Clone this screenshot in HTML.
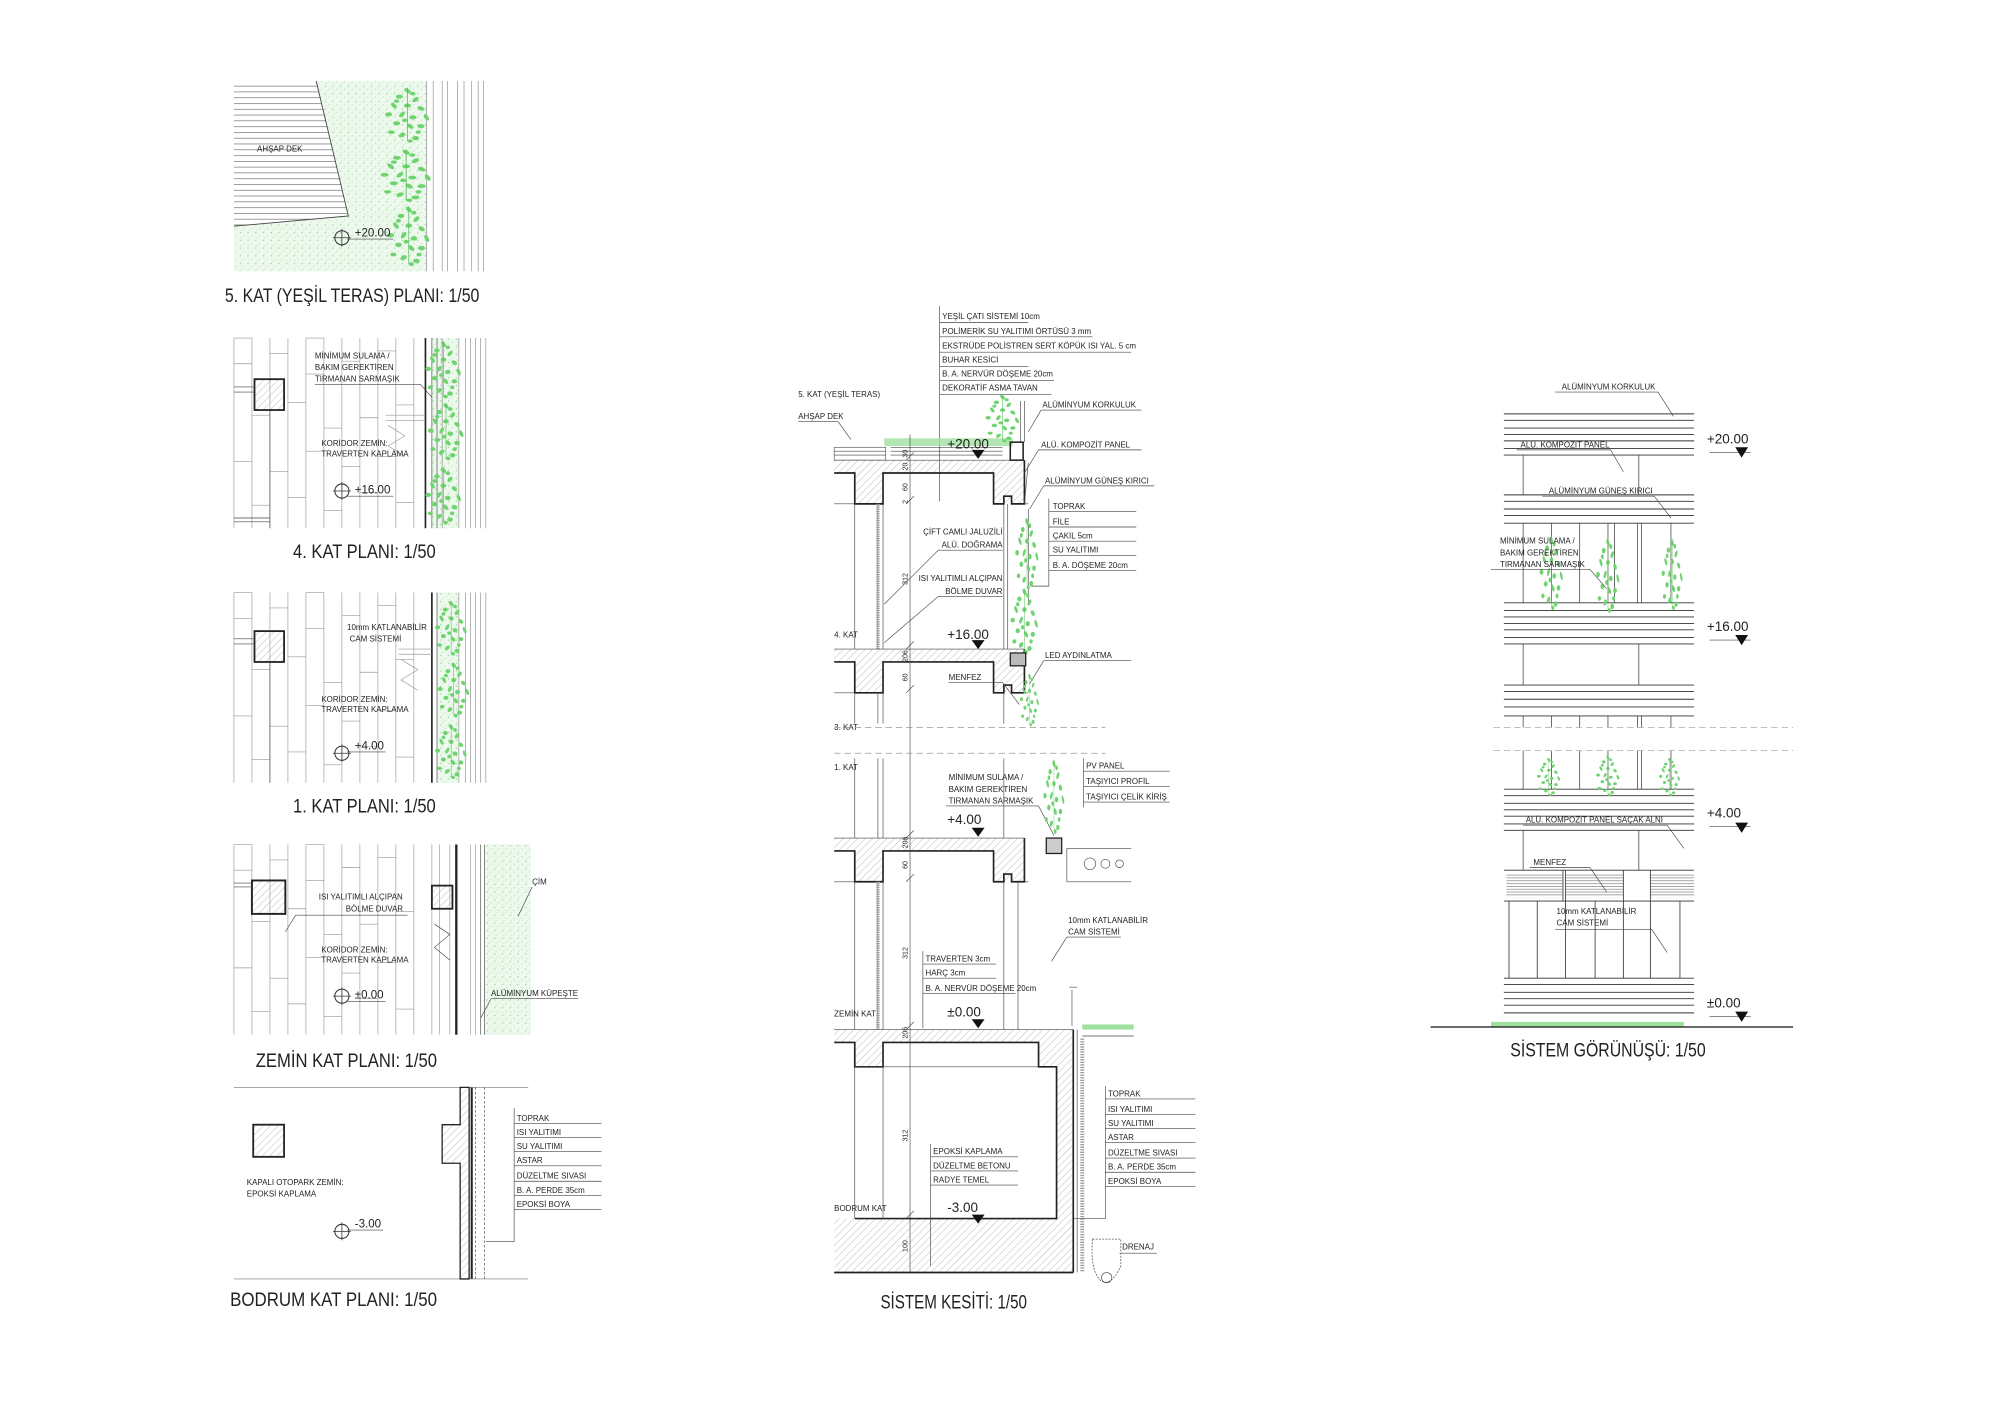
<!DOCTYPE html>
<html><head><meta charset="utf-8"><style>
html,body{margin:0;padding:0;background:#fff}
svg{display:block}
text{font-family:"Liberation Sans",sans-serif;fill:#222}
.s{font-size:6.2px}
.t{font-size:15px}
.lv{font-size:10.5px}
.g{stroke:#999;stroke-width:.5;fill:none}
.k{stroke:#222;stroke-width:1.3;fill:none}
.n{stroke:#444;stroke-width:.5;fill:none}
</style></head><body>
<svg width="2000" height="1413" viewBox="0 0 1556 1099.3" preserveAspectRatio="none" xmlns="http://www.w3.org/2000/svg">
<defs>
<pattern id="h" width="4" height="4" patternUnits="userSpaceOnUse" patternTransform="rotate(45)"><line x1="0" y1="0" x2="0" y2="4" stroke="#999" stroke-width=".5"/></pattern>
<pattern id="gd" width="6" height="6" patternUnits="userSpaceOnUse"><rect width="6" height="6" fill="#eef9ee"/><circle cx="1" cy="1" r=".5" fill="#8ccf8c"/><circle cx="4" cy="3.5" r=".4" fill="#9ad69a"/><circle cx="2" cy="5" r=".35" fill="#8ccf8c"/></pattern>
<pattern id="dk" width="10" height="4.5" patternUnits="userSpaceOnUse"><line x1="0" y1="4" x2="10" y2="4" stroke="#666" stroke-width=".5"/></pattern>
<pattern id="mf" width="10" height="2.2" patternUnits="userSpaceOnUse"><line x1="0" y1="1" x2="10" y2="1" stroke="#777" stroke-width=".5"/></pattern>
<symbol id="lf" viewBox="0 0 20 20" preserveAspectRatio="none">
<g fill="#6fd46f">
<ellipse cx="10" cy="2" rx="1.3" ry=".7" transform="rotate(30 10 2)"/><ellipse cx="7" cy="4" rx="1.3" ry=".7"/><ellipse cx="13" cy="5" rx="1.3" ry=".7" transform="rotate(-30 13 5)"/>
<ellipse cx="5" cy="7" rx="1.3" ry=".7" transform="rotate(40 5 7)"/><ellipse cx="10" cy="7" rx="1.3" ry=".7"/><ellipse cx="15" cy="8" rx="1.3" ry=".7" transform="rotate(20 15 8)"/>
<ellipse cx="3" cy="10" rx="1.3" ry=".7"/><ellipse cx="8" cy="10" rx="1.3" ry=".7" transform="rotate(-40 8 10)"/><ellipse cx="12" cy="11" rx="1.3" ry=".7"/><ellipse cx="17" cy="11" rx="1.3" ry=".7" transform="rotate(50 17 11)"/>
<ellipse cx="6" cy="13" rx="1.3" ry=".7"/><ellipse cx="11" cy="14" rx="1.3" ry=".7" transform="rotate(30 11 14)"/><ellipse cx="15" cy="14" rx="1.3" ry=".7"/>
<ellipse cx="8" cy="17" rx="1.3" ry=".7" transform="rotate(-20 8 17)"/><ellipse cx="13" cy="18" rx="1.3" ry=".7"/><ellipse cx="4" cy="16" rx="1.2" ry=".6"/>
<ellipse cx="12" cy="3" rx="1" ry=".6"/><ellipse cx="6" cy="5.5" rx="1" ry=".6"/><ellipse cx="14" cy="16" rx="1" ry=".6"/><ellipse cx="9" cy="12" rx="1" ry=".6"/><ellipse cx="11" cy="19" rx="1" ry=".6"/>
</g>
<path d="M10 1V19" stroke="#5cc25c" stroke-width=".3"/></symbol>
<symbol id="mk" viewBox="0 0 14 14"><circle cx="7" cy="7" r="5.5" fill="none" stroke="#333" stroke-width=".8"/><line x1="0" y1="7" x2="14" y2="7" stroke="#333" stroke-width=".6"/><line x1="7" y1="0" x2="7" y2="14" stroke="#333" stroke-width=".6"/></symbol>
<g id="planlines">
<path class="g" d="M182 0V148M196 0V148M210 0V148M224 0V148M238 0V148M252 0V148M266 0V148M280 0V148M294 0V148M308 0V148M322 0V148"/>
<path class="g" d="M182 20H196M210 12H224M238 28H252M266 18H280M294 10H308M196 60H210M224 50H238M252 70H266M280 62H294M308 52H322M182 96H196M210 104H224M238 88H252M266 100H280M294 92H308M196 130H210M224 124H238M252 134H266M280 120H294M308 128H322M182 0H196M238 0H252"/>
</g>
<g id="fl">
<rect x="649" y="0" width="148" height="10" fill="url(#h)"/>
<rect x="665" y="10" width="22" height="24" fill="url(#h)"/>
<rect x="773" y="10" width="24" height="24" fill="url(#h)"/>
<path class="n" d="M649 0H797"/>
<path class="k" d="M649 10H665V34H687V10H773V34H781V28H787V34H797V0"/>
<path class="n" d="M649 34H665M797 34H800"/>
</g>
</defs>

<!-- ===== PLAN 5 ===== -->
<rect x="182" y="63" width="150" height="148" fill="url(#gd)"/>
<polygon points="182,63 246,63 271,168 182,176" fill="#fff"/>
<polygon points="182,63 246,63 271,168 182,176" fill="url(#dk)"/>
<path d="M246 63L271 168L182 176" class="n" style="stroke-width:.7"/>
<text class="s" x="200" y="118">AHŞAP DEK</text>
<path class="g" d="M332 63V211M337 63V211M344 63V211M348 63V211M356 63V211M361 63V211M367 63V211M372 63V211M376 63V211" style="stroke:#888"/>
<use href="#lf" x="296" y="66" width="42" height="46"/><use href="#lf" x="292" y="114" width="48" height="44"/><use href="#lf" x="298" y="158" width="40" height="50"/>
<use href="#mk" x="259" y="178" width="14" height="14"/>
<text class="lv" x="276" y="184" style="font-size:9px">+20.00</text><line class="n" x1="270" y1="186" x2="306" y2="186"/>
<text class="t" x="175" y="235" textLength="198" lengthAdjust="spacingAndGlyphs">5. KAT (YEŞİL TERAS) PLANI: 1/50</text>

<!-- ===== PLAN 4 ===== -->
<g transform="translate(0,263)">
<use href="#planlines"/>
<rect x="336" y="0" width="21" height="148" fill="url(#gd)"/>
<path class="k" d="M331 0V148"/><path class="n" d="M336 0V148M340 0V148"/>
<path class="g" d="M344 0V148M357 0V148M362 0V148M366 0V148M370 0V148M374 0V148M378 0V148" style="stroke:#888"/>
<use href="#lf" x="328" y="0" width="34" height="48"/><use href="#lf" x="330" y="48" width="34" height="48"/><use href="#lf" x="328" y="98" width="34" height="48"/>
<rect x="198" y="32" width="23" height="24" fill="url(#h)" stroke="#222" stroke-width="1.4"/>
<path class="n" d="M182 38H198M182 42H198M182 140H210M182 143H210M210 56V148"/>
<path class="n" d="M300 60H331M300 64H331M302 68L315 76L302 84L315 92" style="stroke:#999"/>
<text class="s" x="245" y="16">MİNİMUM SULAMA /</text><text class="s" x="245" y="25">BAKIM GEREKTİREN</text><text class="s" x="245" y="34">TIRMANAN SARMAŞIK</text>
<path class="n" d="M245 36H327L336 46"/>
<text class="s" x="250" y="84">KORİDOR ZEMİN:</text><text class="s" x="250" y="92">TRAVERTEN KAPLAMA</text>
<use href="#mk" x="259" y="112" width="14" height="14"/>
<text class="lv" x="276" y="121" style="font-size:9px">+16.00</text><line class="n" x1="270" y1="123" x2="306" y2="123"/>
</g>
<text class="t" x="228" y="434" textLength="111" lengthAdjust="spacingAndGlyphs">4. KAT PLANI: 1/50</text>

<!-- ===== PLAN 1 ===== -->
<g transform="translate(0,461)">
<use href="#planlines"/>
<rect x="340" y="0" width="17" height="148" fill="url(#gd)"/>
<path class="k" d="M336 0V148"/><path class="n" d="M340 0V148"/>
<path class="g" d="M357 0V148M362 0V148M366 0V148M370 0V148M374 0V148M378 0V148" style="stroke:#888"/>
<use href="#lf" x="336" y="4" width="30" height="46"/><use href="#lf" x="338" y="52" width="30" height="46"/><use href="#lf" x="336" y="100" width="30" height="46"/>
<rect x="198" y="30" width="23" height="24" fill="url(#h)" stroke="#222" stroke-width="1.4"/>
<path class="n" d="M182 36H198M182 40H198M210 54V148"/>
<path class="n" d="M310 44H336M310 48H336M312 52L325 60L312 68L325 76" style="stroke:#999"/>
<text class="s" x="270" y="29">10mm KATLANABİLİR</text><text class="s" x="272" y="38">CAM SİSTEMİ</text>
<text class="s" x="250" y="85">KORİDOR ZEMİN:</text><text class="s" x="250" y="93">TRAVERTEN KAPLAMA</text>
<use href="#mk" x="259" y="118" width="14" height="14"/>
<text class="lv" x="276" y="122" style="font-size:9px">+4.00</text><line class="n" x1="270" y1="124" x2="300" y2="124"/>
</g>
<text class="t" x="228" y="632" textLength="111" lengthAdjust="spacingAndGlyphs">1. KAT PLANI: 1/50</text>

<!-- ===== ZEMIN ===== -->
<g transform="translate(0,657)">
<use href="#planlines"/>
<path class="g" d="M336 0V148M342 0V148M350 0V148M366 0V148M370 0V148"/>
<path class="k" d="M355 0V148" style="stroke-width:1.8"/>
<rect x="377" y="0" width="36" height="148" fill="url(#gd)"/>
<path class="n" d="M374 0V148M377 0V148"/>
<rect x="196" y="28" width="26" height="26" fill="url(#h)" stroke="#222" stroke-width="1.5"/>
<rect x="336" y="32" width="16" height="18" fill="url(#h)" stroke="#222" stroke-width="1.4"/>
<path class="n" d="M182 30H196M182 33H196M338 62L350 70L338 80L350 90"/>
<text class="s" x="248" y="43">ISI YALITIMLI ALÇIPAN</text><text class="s" x="269" y="52">BÖLME DUVAR</text>
<path class="n" d="M317 55H230L222 68"/>
<text class="s" x="250" y="84">KORİDOR ZEMİN:</text><text class="s" x="250" y="92">TRAVERTEN KAPLAMA</text>
<use href="#mk" x="259" y="111" width="14" height="14"/>
<text class="lv" x="276" y="120" style="font-size:9px">±0.00</text><line class="n" x1="270" y1="122" x2="300" y2="122"/>
<text class="s" x="414" y="31">ÇİM</text><path class="n" d="M414 33L403 56"/>
<text class="s" x="382" y="118">ALÜMİNYUM KÜPEŞTE</text><path class="n" d="M382 120H450M382 120L374 135"/>
</g>
<text class="t" x="199" y="830" textLength="141" lengthAdjust="spacingAndGlyphs">ZEMİN KAT PLANI: 1/50</text>

<!-- ===== BODRUM ===== -->
<path class="n" d="M182 846H411M182 995H411" style="stroke:#777"/>
<path d="M358 846V875H344V905H358V995H365V846Z" fill="url(#h)" stroke="#222" stroke-width="1"/>
<path class="k" d="M367 846V995" style="stroke-width:1.6"/>
<path class="n" d="M370 846V995M377 846V995" style="stroke-dasharray:2 1.5"/>
<rect x="197" y="875" width="24" height="25" fill="url(#h)" stroke="#222" stroke-width="1.4"/>
<text class="s" x="192" y="922">KAPALI OTOPARK ZEMİN:</text><text class="s" x="192" y="931">EPOKSİ KAPLAMA</text>
<use href="#mk" x="259" y="951" width="14" height="14"/>
<text class="lv" x="276" y="955" style="font-size:9px">-3.00</text><line class="n" x1="270" y1="957" x2="298" y2="957"/>
<g class="s">
<text x="402" y="872">TOPRAK</text><text x="402" y="883">ISI YALITIMI</text><text x="402" y="894">SU YALITIMI</text><text x="402" y="905">ASTAR</text><text x="402" y="917">DÜZELTME SIVASI</text><text x="402" y="928">B. A. PERDE 35cm</text><text x="402" y="939">EPOKSİ BOYA</text>
</g>
<path class="n" d="M400 862V966H378M400 874H468M400 885H468M400 896H468M400 907H468M400 919H468M400 930H468M400 941H468"/>
<text class="t" x="179" y="1016" textLength="161" lengthAdjust="spacingAndGlyphs">BODRUM KAT PLANI: 1/50</text>

<!-- ===== SECTION ===== -->
<g class="s">
<text x="733" y="248">YEŞİL ÇATI SİSTEMİ 10cm</text><text x="733" y="260">POLİMERİK SU YALITIMI ÖRTÜSÜ 3 mm</text><text x="733" y="271">EKSTRÜDE POLİSTREN SERT KÖPÜK ISI YAL. 5 cm</text><text x="733" y="282">BUHAR KESİCİ</text><text x="733" y="293">B. A. NERVÜR DÖŞEME 20cm</text><text x="733" y="304">DEKORATİF ASMA TAVAN</text>
<text x="621" y="309">5. KAT (YEŞİL TERAS)</text><text x="621" y="326">AHŞAP DEK</text>
</g>
<path class="n" d="M731 238V390M731 251H800M731 262H850M731 274H880M731 285H800M731 296H820M731 307H818M621 328H652L662 342"/>
<rect x="649" y="348" width="40" height="10" fill="#fff" stroke="#555" stroke-width=".5"/>
<path class="n" d="M649 351H689M649 354H689M693 348H780M693 351H780M693 354H780"/>
<rect x="688" y="341" width="100" height="6" fill="#9fe09f" opacity=".8"/>
<use href="#lf" x="764" y="305" width="32" height="40"/>
<use href="#fl" y="358"/><use href="#fl" y="505"/><use href="#fl" y="652"/>
<rect x="786" y="344" width="10" height="14" fill="none" stroke="#222" stroke-width="1.2"/>
<path class="n" d="M794 312V344M797 312V344M800 360L797 392M800 396V470"/>
<text class="lv" x="737" y="349">+20.00</text><polygon points="756,350 766,350 761,357" fill="#111"/>
<path class="n" d="M665 392V505M665 539V563M683 392V505M687 392V505M683 539V563M687 539V563M781 392V505M784 392V505M781 539V563M665 590V652M683 590V652M687 590V652M665 686V801M683 686V801M687 686V801M781 590V652M781 686V801M792 686V801"/>
<path d="M683 392V505M683 686V801" stroke="#999" stroke-width="3" stroke-dasharray=".6 .8"/>
<path class="n" d="M708 338V990M705 358L711 352M705 392L711 386M705 505L711 499M705 539L711 533M705 652L711 646M705 686L711 680M705 801L711 795M705 948L711 942"/>
<g class="s" style="font-size:5.5px">
<text transform="translate(706,455) rotate(-90)">312</text><text transform="translate(706,382) rotate(-90)">60</text><text transform="translate(706,366) rotate(-90)">20</text><text transform="translate(706,356) rotate(-90)">30</text><text transform="translate(706,392) rotate(-90)">2</text>
<text transform="translate(706,515) rotate(-90)">206</text><text transform="translate(706,530) rotate(-90)">60</text>
<text transform="translate(706,660) rotate(-90)">206</text><text transform="translate(706,676) rotate(-90)">60</text><text transform="translate(706,746) rotate(-90)">312</text>
<text transform="translate(706,808) rotate(-90)">206</text><text transform="translate(706,888) rotate(-90)">312</text><text transform="translate(706,974) rotate(-90)">100</text>
</g>
<g class="s">
<text x="811" y="317">ALÜMİNYUM KORKULUK</text><text x="810" y="348">ALÜ. KOMPOZİT PANEL</text><text x="813" y="376">ALÜMİNYUM GÜNEŞ KIRICI</text>
<text x="819" y="396">TOPRAK</text><text x="819" y="408">FİLE</text><text x="819" y="419">ÇAKIL 5cm</text><text x="819" y="430">SU YALITIMI</text><text x="819" y="442">B. A. DÖŞEME 20cm</text>
<text x="780" y="416" text-anchor="end">ÇİFT CAMLI JALUZİLİ</text><text x="780" y="426" text-anchor="end">ALÜ. DOĞRAMA</text>
<text x="780" y="452" text-anchor="end">ISI YALITIMLI ALÇIPAN</text><text x="780" y="462" text-anchor="end">BÖLME DUVAR</text>
<text x="649" y="496">4. KAT</text><text x="813" y="512">LED AYDINLATMA</text><text x="738" y="529">MENFEZ</text><text x="649" y="568">3. KAT</text>
</g>
<path class="n" d="M810 319H888M810 319L800 336M808 350H888M808 350L797 368M812 378H898M812 378L801 396M816 388V456H802M816 398H884M816 410H884M816 421H884M816 432H884M816 444H884M780 428H730L688 470M780 464H730L688 500M812 514H880M812 514L801 532M738 531H780L793 548"/>
<use href="#lf" x="788" y="400" width="22" height="60"/><use href="#lf" x="784" y="455" width="26" height="55"/><use href="#lf" x="792" y="522" width="18" height="44"/>
<text class="lv" x="737" y="497">+16.00</text><polygon points="756,498 766,498 761,505" fill="#111"/>
<rect x="786" y="508" width="12" height="10" fill="#bbb" stroke="#222" stroke-width="1"/>
<path d="M649 566H860M649 586H860" stroke="#999" stroke-width=".6" stroke-dasharray="5 3"/>
<g class="s">
<text x="649" y="599">1. KAT</text><text x="738" y="607">MİNİMUM SULAMA /</text><text x="738" y="616">BAKIM GEREKTİREN</text><text x="738" y="625">TIRMANAN SARMAŞIK</text>
<text x="845" y="598">PV PANEL</text><text x="845" y="610">TAŞIYICI PROFİL</text><text x="845" y="622">TAŞIYICI ÇELİK KİRİŞ</text>
<text x="831" y="718">10mm KATLANABİLİR</text><text x="831" y="727">CAM SİSTEMİ</text>
<text x="720" y="748">TRAVERTEN 3cm</text><text x="720" y="759">HARÇ 3cm</text><text x="720" y="771">B. A. NERVÜR DÖŞEME 20cm</text>
<text x="649" y="791">ZEMİN KAT</text>
</g>
<path class="n" d="M736 627H808L820 650M843 590V628M843 600H910M843 612H910M843 624H910M830 729H872M830 729L818 748M718 740V800M718 750H775M718 761H775M718 773H790"/>
<use href="#lf" x="810" y="588" width="20" height="62"/>
<rect x="814" y="652" width="12" height="12" fill="#ccc" stroke="#222" stroke-width="1"/>
<path class="n" d="M830 660H880M830 686H880M830 660V686"/>
<circle cx="848" cy="672" r="4.5" class="n"/><circle cx="860" cy="672" r="3.5" class="n"/><circle cx="871" cy="672" r="3" class="n"/>
<text class="lv" x="737" y="641">+4.00</text><polygon points="756,644 766,644 761,651" fill="#111"/>
<path d="M649 801H835V990H649V948H822V830H808V811H687V830H665V811H649Z" fill="url(#h)"/>
<path class="k" d="M649 811H665V830H687V811H808V830H822V948H665M835 801V990M649 990H835"/>
<path class="n" d="M649 801H835M665 830V948M687 830V948M665 830H808M838 801V990"/>
<path d="M842 808V990" stroke="#999" stroke-width="3" stroke-dasharray="1 1"/>
<rect x="842" y="797" width="40" height="4" fill="#9fe09f"/>
<path class="n" d="M842 806H882M834 770V798M832 768H838"/>
<text class="lv" x="737" y="791">±0.00</text><polygon points="756,793 766,793 761,800" fill="#111"/>
<g class="s">
<text x="862" y="853">TOPRAK</text><text x="862" y="865">ISI YALITIMI</text><text x="862" y="876">SU YALITIMI</text><text x="862" y="887">ASTAR</text><text x="862" y="899">DÜZELTME SIVASI</text><text x="862" y="910">B. A. PERDE 35cm</text><text x="862" y="921">EPOKSİ BOYA</text>
<text x="726" y="898">EPOKSİ KAPLAMA</text><text x="726" y="909">DÜZELTME BETONU</text><text x="726" y="920">RADYE TEMEL</text>
<text x="649" y="942">BODRUM KAT</text><text x="873" y="972">DRENAJ</text>
</g>
<path class="n" d="M860 845V948H835M860 855H930M860 867H930M860 878H930M860 889H930M860 901H930M860 912H930M860 923H930M724 890V985M724 900H792M724 911H792M724 922H792M871 975H900"/>
<text class="lv" x="737" y="943">-3.00</text><polygon points="756,945 766,945 761,952" fill="#111"/>
<path d="M850 964H872V985Q864 1002 856 996Q848 988 850 964Z" fill="none" stroke="#555" stroke-width=".6" stroke-dasharray="1.5 1"/>
<circle cx="861" cy="994" r="4" class="n"/>
<text class="t" x="685" y="1018" textLength="114" lengthAdjust="spacingAndGlyphs">SİSTEM KESİTİ: 1/50</text>

<!-- ===== ELEVATION ===== -->
<g stroke="#333" stroke-width=".7">
<path d="M1170 322H1318M1170 327H1318M1170 333H1318M1170 338H1318M1170 343H1318M1170 349H1318M1170 354H1318"/>
<path d="M1170 385H1318M1170 390H1318M1170 396H1318M1170 401H1318M1170 407H1318"/>
<path d="M1170 469H1318M1170 475H1318M1170 480H1318M1170 485H1318M1170 490H1318M1170 496H1318M1170 501H1318"/>
<path d="M1170 533H1318M1170 538H1318M1170 544H1318M1170 550H1318M1170 557H1318"/>
<path d="M1170 614H1318M1170 619H1318M1170 625H1318M1170 630H1318M1170 635H1318M1170 641H1318M1170 646H1318"/>
<path d="M1170 677H1318M1170 701H1318"/>
<path d="M1170 761H1318M1170 766H1318M1170 772H1318M1170 777H1318M1170 782H1318M1170 788H1318"/>
</g>
<path class="n" d="M1185 354V385M1275 354V385M1185 501V533M1275 501V533M1185 646V677M1275 646V677M1185 407V469M1207 407V469M1229 407V469M1251 407V469M1256 407V469M1274 407V469M1277 407V469M1300 407V469M1185 557V566M1207 557V566M1229 557V566M1251 557V566M1274 557V566M1277 557V566M1300 557V566M1185 584V614M1207 584V614M1229 584V614M1251 584V614M1274 584V614M1277 584V614M1300 584V614" style="stroke-width:.6"/>
<rect x="1172" y="680" width="44" height="18" fill="url(#mf)"/><rect x="1218" y="680" width="45" height="18" fill="url(#mf)"/><rect x="1284" y="680" width="34" height="18" fill="url(#mf)"/>
<path class="n" d="M1216 677V701M1218 677V701M1263 677V761M1284 677V761M1174 701V761M1196 701V761M1218 701V761M1241 701V761M1307 701V761" style="stroke-width:.7"/>
<path d="M1162 566H1395M1162 584H1395" stroke="#aaa" stroke-width=".6" stroke-dasharray="5 3"/>
<use href="#lf" x="1196" y="414" width="22" height="62"/><use href="#lf" x="1240" y="416" width="22" height="62"/><use href="#lf" x="1291" y="416" width="20" height="60"/>
<use href="#lf" x="1194" y="588" width="22" height="32"/><use href="#lf" x="1240" y="586" width="22" height="34"/><use href="#lf" x="1289" y="588" width="20" height="32"/>
<rect x="1160" y="795" width="150" height="4" fill="#9fe09f"/>
<path d="M1113 799H1395" stroke="#111" stroke-width="1"/>
<g class="s">
<text x="1215" y="303">ALÜMİNYUM KORKULUK</text><text x="1183" y="348">ALÜ. KOMPOZİT PANEL</text><text x="1205" y="384">ALÜMİNYUM GÜNEŞ KIRICI</text>
<text x="1167" y="423">MİNİMUM SULAMA /</text><text x="1167" y="432">BAKIM GEREKTİREN</text><text x="1167" y="441">TIRMANAN SARMAŞIK</text>
<text x="1187" y="640">ALÜ. KOMPOZİT PANEL SAÇAK ALNI</text><text x="1193" y="673">MENFEZ</text>
<text x="1211" y="711">10mm KATLANABİLİR</text><text x="1211" y="720">CAM SİSTEMİ</text>
</g>
<path class="n" d="M1210 305H1290L1302 324M1180 350H1253L1263 367M1200 386H1287L1300 403M1160 443H1237L1250 458M1185 642H1297L1310 660M1190 675H1237L1250 694M1210 723H1285L1297 741"/>
<g class="lv">
<text x="1328" y="345">+20.00</text><text x="1328" y="491">+16.00</text><text x="1328" y="636">+4.00</text><text x="1328" y="784">±0.00</text>
</g>
<path class="n" d="M1330 352H1362M1330 498H1362M1330 643H1362M1330 791H1362"/>
<polygon points="1350,348 1360,348 1355,356" fill="#111"/><polygon points="1350,494 1360,494 1355,502" fill="#111"/><polygon points="1350,640 1360,640 1355,648" fill="#111"/><polygon points="1350,787 1360,787 1355,795" fill="#111"/>
<text class="t" x="1175" y="822" textLength="152" lengthAdjust="spacingAndGlyphs">SİSTEM GÖRÜNÜŞÜ: 1/50</text>
</svg>
</body></html>
